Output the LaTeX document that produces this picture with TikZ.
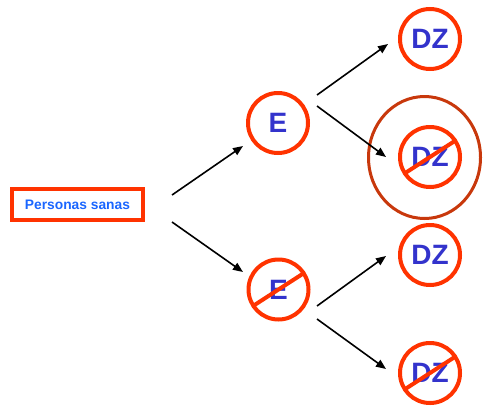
\documentclass[tikz,border=0pt]{standalone}
\usepackage{fontspec}
\setmainfont{Liberation Sans}
\usetikzlibrary{arrows.meta,shapes.geometric}
\definecolor{ringred}{HTML}{FF3300}
\definecolor{halo}{HTML}{C8380C}
\definecolor{letterblue}{HTML}{3333CC}
\definecolor{labelblue}{HTML}{1A66FF}
\begin{document}
\begin{tikzpicture}[x=1pt,y=-1pt,
  ring/.style={circle,draw=ringred,line width=4pt,minimum size=60pt,inner sep=0pt,
    text=letterblue,font=\bfseries\fontsize{28}{28}\selectfont},
  startbox/.style={rectangle,draw=ringred,line width=4pt,minimum width=131pt,minimum height=31pt,
    inner sep=0pt,text=labelblue,font=\bfseries\fontsize{13.8}{14}\selectfont},
  slash/.style={draw=ringred,line width=4pt},
  arr/.style={draw=black,line width=1.6pt,-{Triangle[length=10pt,width=8pt]}}]
\useasboundingbox (0,0) rectangle (486,407);

% starting population
\node[startbox] (box) at (77.5,204.5) {Personas sanas};

% exposure level
\node[ring] (e1) at (278,123) {E};
\node[ring] (e2) at (278.5,289.5) {E};

% outcome level
\node[ring] (d1) at (430,39) {DZ};
\node[ring] (d2) at (430,157) {DZ};
\node[ring] (d3) at (430,255) {DZ};
\node[ring] (d4) at (430,373) {DZ};

% highlight around the second outcome
\node[ellipse,draw=halo,line width=3pt,minimum width=112pt,minimum height=122pt,inner sep=0pt]
  (hl) at (424.5,157.5) {};

% crossing-out strokes
\draw[slash] ([shift={(-25.2,16.3)}]e2.center) -- ([shift={(25.2,-16.3)}]e2.center);
\draw[slash] ([shift={(-25.2,16.3)}]d2.center) -- ([shift={(25.2,-16.3)}]d2.center);
\draw[slash] ([shift={(-25.2,16.3)}]d4.center) -- ([shift={(25.2,-16.3)}]d4.center);

% branches
\draw[arr] ([shift={(94.5,-9.5)}]box.center) -- ([shift={(-35,23)}]e1.center);
\draw[arr] ([shift={(94.5,17.5)}]box.center) -- ([shift={(-35.5,-17.5)}]e2.center);
\draw[arr] ([shift={(39,-28)}]e1.center) -- ([shift={(-42,5)}]d1.center);
\draw[arr] ([shift={(39,-17)}]e1.center) -- ([shift={(-44,0)}]d2.center);
\draw[arr] ([shift={(38.5,16.5)}]e2.center) -- ([shift={(-44,1)}]d3.center);
\draw[arr] ([shift={(38.5,29.5)}]e2.center) -- ([shift={(-44,-4)}]d4.center);
\end{tikzpicture}
\end{document}
